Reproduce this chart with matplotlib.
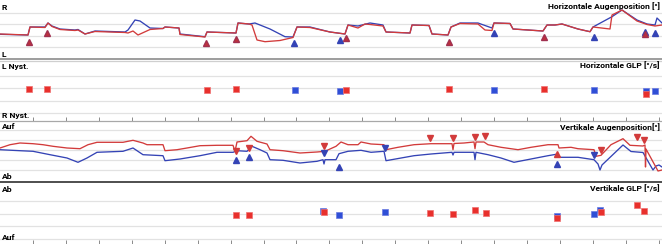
import matplotlib
matplotlib.use("Agg")
import matplotlib.pyplot as plt
from matplotlib import font_manager as fm
import numpy as np

# ---------------- data ----------------
# time axis in samples (0..662)
# Panel 1: horizontal eye position
hpos_blue_t = [0, 28, 30, 45, 48, 52, 60, 75, 78, 85, 95, 110, 125, 128, 135, 140, 150, 163, 165, 179, 180,
               205, 207, 236, 238, 249, 255, 270, 285, 293, 297, 310, 330, 345, 348, 358, 370, 383, 386, 410,
               412, 429, 432, 448, 451, 460, 478, 492, 494, 510, 513, 543, 547, 555, 562, 578, 590, 593, 612,
               622, 637, 647, 655, 657, 662]
hpos_blue_v = [-4.3, -5, 3, 3, 7, 4, 1, 0, 0.5, -4, -1, -1.5, -2, 0, 10, 9, 2, 1.5, 3, 2, -4,
               -6.7, -2, -3, 7, 6, 7, 1, -6.7, -7, 3, 3, -2, -4, 5, 4, 7, 5, -2, -3,
               5, 4.5, -4, -5, 3, 7, 7, 2, 7, 6.5, 1, -1, 5, 5, 6, 1, -1.7, 3, 13.3,
               20, 10, 6, 5, 12, 7]
hpos_red_t = [0, 28, 30, 45, 48, 52, 60, 75, 78, 85, 95, 110, 125, 128, 133, 138, 150, 163, 165, 179, 180,
              205, 207, 236, 238, 249, 252, 257, 265, 280, 293, 297, 310, 330, 345, 348, 358, 365, 370, 383,
              386, 410, 412, 429, 432, 448, 451, 460, 478, 485, 492, 494, 510, 513, 543, 547, 555, 562, 578,
              590, 593, 610, 612, 622, 637, 647, 655, 662]
hpos_red_v = [-4, -5, 3, 2.5, 7, 3.5, 0.5, -0.5, 0, -4, -1.5, -2, -2.5, -3, -1, -5, 0.5, 1.5, 3, 2, -4.5,
              -7, -2, -3, 7, 6, 5, -10, -11.7, -10.5, -7.5, 3, 2.5, -2, -4, 5, 2, 6, 5.5, 4,
              -2, -3, 5, 4.5, -4, -5, 3, 6.5, 6, 0, -0.5, 7, 6.5, 1, -1, 5, 5, 6, 1,
              -1.7, 3, 1, 15, 20, 9, 5.5, 4, 5]
hmark_red_t = [29, 47, 206, 236, 346, 449, 544, 645]
hmark_red_v = [-11.7, -3.3, -12.7, -9.3, -8, -11.7, -7.3, -4.3]
hmark_blue_t = [294, 340, 494, 594, 645, 655]
hmark_blue_v = [-12.7, -10, -2.7, -7.3, -1.7, -3]

# Panel 2: horizontal slow phase velocity (GLP)
hglp_red_t = [29, 47, 207, 236, 346, 449, 544, 646]
hglp_red_v = [-1, -1, -1.7, -1, -1.7, -1, -1, -5.7]
hglp_blue_t = [295, 340, 494, 594, 646, 655]
hglp_blue_v = [-1.7, -2.4, -1.7, -1.7, -2.7, -2.4]

# Panel 3: vertical eye position
vpos_red_t = [0, 10, 20, 33, 43, 53, 67, 80, 88, 97, 123, 133, 143, 147, 163, 165, 177, 187, 200, 217, 233,
              235, 237, 247, 251, 257, 267, 270, 283, 300, 317, 325, 330, 336, 341, 348, 358, 361, 371, 384,
              386, 398, 414, 431, 452, 453, 454, 464, 474, 475, 476, 484, 488, 501, 518, 531, 548, 558, 559,
              571, 578, 594, 596, 601, 611, 623, 630, 643, 645, 645.5, 646, 658, 662]
vpos_red_v = [1.5, 4.8, 6.5, 5.8, 4.8, 3.2, 1.5, 0.8, 4.8, 7.2, 7.2, 9.2, 6.5, 4.8, 4.8, -1.2, -0.2, 1.5, 3.8, 4.2, 4.2,
              -1.8, 7.5, 8.8, 13.2, 8.2, 5.5, -0.2, -1.2, -3.5, -2.5, -1.8, 0.5, 3.2, 7.5, 4.8, 4.8, 7.5, 5.5, 4.8,
              -0.2, 2.2, 4.8, 5.8, 5.8, -0.2, 6, 6.5, 7.5, 0.8, 7.5, 7.5, 4.8, 2.2, -0.2, 2.2, 4.8, 4.8, 1.5,
              2.2, 0.8, -0.2, -6.8, -5.8, 4.8, 10.8, 4.2, 3.5, 4.5, -17.5, 0.5, -21.5, -20.5]
vpos_blue_t = [0, 20, 33, 50, 67, 78, 87, 97, 123, 133, 143, 163, 165, 180, 200, 217, 233, 237, 247, 252, 260,
               267, 270, 283, 300, 317, 323, 324, 325, 336, 339, 348, 361, 371, 384, 386, 414, 431, 452, 453,
               454, 474, 475, 476, 488, 501, 514, 531, 548, 558, 559, 578, 594, 598, 600, 602, 623, 631, 643,
               653, 656, 659, 662]
vpos_blue_v = [-0.2, -1.2, -1.8, -5.2, -8.5, -12.8, -8.5, -2.8, -1.8, 1.5, -5.2, -6.2, -11.2, -9.5, -6.2, -2.8, -2.8, -1.2, -1.8, 3.2, -0.2,
               -3.5, -10.2, -10.8, -13.5, -11.8, -10.2, -14.5, -10.2, -10.2, -4.2, -1.8, -0.8, -2.8, -1.8, -11.2, -6.2, -4.5, -2.8, -5.5,
               -2.8, -2.8, -10.2, -2.8, -5.2, -8.5, -12.8, -9.5, -6.2, -4.5, -7.8, -7.8, -10.2, -14.5, -20.5, -15.5, 4.5, -2, -3,
               -20.5, -16.5, -15.5, -17.5]
vmark_red_down_t = [236, 249, 324, 430, 453, 475, 485, 601, 637, 644]
vmark_red_down_v = [-1, 1.5, 3.2, 11.7, 11.5, 12.5, 13.2, -0.8, 12.5, 10]
vmark_red_up_t = [557]
vmark_red_up_v = [-4]
vmark_blue_up_t = [236, 249, 339, 557]
vmark_blue_up_v = [-10.5, -7.2, -17.5, -14]
vmark_blue_down_t = [324, 385, 594]
vmark_blue_down_v = [-3.5, 1.2, -5]

# Panel 4: vertical slow phase velocity (GLP)
vglp_red_t = [236, 249, 324, 430, 453, 475, 486, 557, 601, 637, 644]
vglp_red_v = [-1, -1, 1.4, 1, 0, 4, 1, -4, 1.7, 8.4, 2.7]
vglp_blue_t = [323, 339, 385, 557, 594, 600]
vglp_blue_v = [2.4, -1.6, 1.7, -2.6, 0, 3.4]

# ---------------- styling ----------------
RED = "#d23b3b"
BLUE = "#3443b5"
SQ_RED = "#e8302c"
SQ_BLUE = "#2f4fd6"
GRID = "#e2e2e2"
TXT = "#000000"

def pick_font(cands):
    for c in cands:
        try:
            fm.findfont(fm.FontProperties(family=c), fallback_to_default=False)
            return c
        except Exception:
            pass
    return "DejaVu Sans"

FONT = pick_font(["Roboto", "Liberation Sans", "DejaVu Sans"])
FS = 6.1

W, H = 662, 244
fig = plt.figure(figsize=(W / 100, H / 100), dpi=100)
fig.patch.set_facecolor("white")

tick_pos = np.arange(1, 21) * 32.94


def panel(top, bottom, ylim, grid_vals, ticks=False):
    ax = fig.add_axes([0, 1 - bottom / H, 1, (bottom - top) / H])
    ax.set_xlim(0, 662)
    ax.set_ylim(*ylim)
    for s in ax.spines.values():
        s.set_visible(False)
    ax.set_yticks([])
    for g in grid_vals:
        ax.axhline(g, color=GRID, lw=0.9, zorder=0)
    if ticks:
        ax.set_xticks(tick_pos)
        ax.tick_params(axis="x", direction="in", length=3, width=0.7, color="#8a8a8a",
                       labelbottom=False, bottom=True, top=False)
    else:
        ax.set_xticks([])
    ax.patch.set_alpha(0)
    return ax

# panel 1
ax1 = panel(0, 59, (-29, 30), [16.8, 5.6, -5.6, -16.8])
ax1.plot(hpos_blue_t, hpos_blue_v, color=BLUE, lw=0.95, zorder=2)
ax1.plot(hpos_red_t, hpos_red_v, color=RED, lw=0.95, zorder=3)
ax1.plot(hmark_blue_t, hmark_blue_v, ls="none", marker="^", ms=4, color=BLUE, mec=BLUE, zorder=4)
ax1.plot(hmark_red_t, hmark_red_v, ls="none", marker="^", ms=4, color="#c0303a", mec="#a03050", zorder=5)

# panel 2
ax2 = panel(60, 121, (-32.7, 28.3), [12.4, 0, -12.4, -24.8], ticks=True)
ax2.plot(hglp_blue_t, hglp_blue_v, ls="none", marker="s", ms=4.2, color=SQ_BLUE, mec="#6a7ae0", mew=0.5, zorder=3)
ax2.plot(hglp_red_t, hglp_red_v, ls="none", marker="s", ms=4.2, color=SQ_RED, mec="#f07070", mew=0.5, zorder=4)

# panel 3
ax3 = panel(121, 181.5, (-32, 28.5), [20, 10, 0, -10, -20])
ax3.plot(vpos_blue_t, vpos_blue_v, color=BLUE, lw=0.95, zorder=2)
ax3.plot(vpos_red_t, vpos_red_v, color=RED, lw=0.95, zorder=3)
ax3.plot(vmark_blue_up_t, vmark_blue_up_v, ls="none", marker="^", ms=4, color=BLUE, zorder=4)
ax3.plot(vmark_blue_down_t, vmark_blue_down_v, ls="none", marker="v", ms=4, color=BLUE, zorder=4)
ax3.plot(vmark_red_up_t, vmark_red_up_v, ls="none", marker="^", ms=4, color=RED, zorder=5)
ax3.plot(vmark_red_down_t, vmark_red_down_v, ls="none", marker="v", ms=4, color=RED, zorder=5)

# panel 4
ax4 = panel(181.5, 244, (-30.3, 32.2), [12.45, 0, -12.45, -24.9], ticks=True)
ax4.plot(vglp_blue_t, vglp_blue_v, ls="none", marker="s", ms=4.2, color=SQ_BLUE, mec="#6a7ae0", mew=0.5, zorder=3)
ax4.plot(vglp_red_t, vglp_red_v, ls="none", marker="s", ms=4.2, color=SQ_RED, mec="#f07070", mew=0.5, zorder=4)

# overlay for separators and labels
ov = fig.add_axes([0, 0, 1, 1])
ov.set_xlim(0, W)
ov.set_ylim(H, 0)
ov.axis("off")
ov.patch.set_alpha(0)
ov.axhline(59.3, color="#8c8c8c", lw=1.2, zorder=1)
ov.axhline(60.6, color="#cfcfcf", lw=0.9, zorder=1)
ov.axhline(121.2, color="#a8a8a8", lw=0.9, zorder=1)
ov.axhline(181.6, color="#303030", lw=1.2, zorder=1)

labels_left = [("R", 10.5), ("L", 57.0), ("L Nyst.", 68.5), ("R Nyst.", 118.3),
               ("Auf", 128.7), ("Ab", 179.0), ("Ab", 192.0), ("Auf", 240.3)]
labels_right = [("Horizontale Augenposition [°]", 8.7), ("Horizontale GLP [°/s]", 68.5),
                ("Vertikale Augenposition[°]", 130.3), ("Vertikale GLP [°/s]", 191.0)]
for s, y in labels_left:
    ov.text(1.5, y, s, ha="left", va="baseline", fontsize=FS, family=FONT, color=TXT, fontweight="bold")
for s, y in labels_right:
    ov.text(660, y, s, ha="right", va="baseline", fontsize=FS, family=FONT, color=TXT, fontweight="bold")

fig.savefig("out.png", dpi=100, facecolor="white")
